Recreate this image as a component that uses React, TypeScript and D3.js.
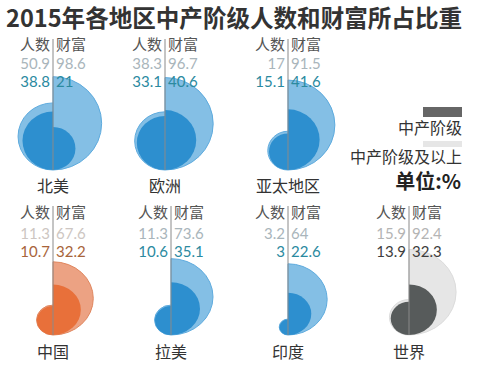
import React from "react";
import * as d3 from "d3";

const title = "2015年各地区中产阶级人数和财富所占比重";
const regions = ["北美", "欧洲", "亚太地区", "中国", "拉美", "印度", "世界"];
const popAbove = ["50.9", "38.3", "17", "11.3", "11.3", "3.2", "15.9"];
const wealthAbove = ["98.6", "96.7", "91.5", "67.6", "73.6", "64", "92.4"];
const popMiddle = ["38.8", "33.1", "15.1", "10.7", "10.6", "3", "13.9"];
const wealthMiddle = ["21", "40.6", "41.6", "32.2", "35.1", "22.6", "32.3"];
const headers = ["人数", "财富"];
const legendLabels = ["中产阶级", "中产阶级及以上"];
const unitLabel = "单位:%";

// layout (not data)
const centersX = [53, 165, 288, 53, 171, 288, 409];
const rowOf = [0, 0, 0, 1, 1, 1, 1];
const rows = [
  { header: 50, light: 69, dark: 87, lineTop: 39, bottom: 170, label: 192, ky: 4.7 },
  { header: 218, light: 239, dark: 257, lineTop: 206, bottom: 335, label: 358, ky: 4.45 },
];

const themes = {
  blue: { dark: "#2d8fcf", light: "#84bfe5", stroke: "#5eabde", valLight: "#a9b5bb", valDark: "#2b8a9f" },
  orange: { dark: "#e8703a", light: "#eca283", stroke: "#e0865e", valLight: "#cdc6c2", valDark: "#a8643a" },
  gray: { dark: "#575b5b", light: "#e6e6e6", stroke: "#dcdcdc", valLight: "#b4b4b4", valDark: "#3d3d3d" },
};
const themeOf = (i: number) => (i === 3 ? themes.orange : i === 6 ? themes.gray : themes.blue);

const FONT = "'Noto Sans CJK SC', 'Noto Sans', sans-serif";
const NUMFONT = "Lato, 'Noto Sans', sans-serif";

function half(cx: number, bottom: number, rx: number, ry: number, right: boolean) {
  return `M${cx},${bottom - 2 * ry} A${rx},${ry} 0 0 ${right ? 1 : 0} ${cx},${bottom} Z`;
}

export default function App() {
  const rxScale = d3.scaleSqrt().domain([0, 100]).range([0, 49]);
  return (
    <svg width={477} height={369} style={{ display: "block", position: "absolute", left: 0, top: 0 }}>
      <rect width={477} height={369} fill="#ffffff" />
      <text x={6} y={27} fontSize={24} fontWeight="bold" fill="#333" fontFamily={FONT} textLength={456} lengthAdjust="spacingAndGlyphs">
        {title}
      </text>
      {regions.map((name, i) => {
        const cx = centersX[i];
        const r = rows[rowOf[i]];
        const ryScale = d3.scaleSqrt().domain([0, 100]).range([0, r.ky * 10]);
        const t = themeOf(i);
        const B = r.bottom;
        const pa = +popAbove[i], wa = +wealthAbove[i], pm = +popMiddle[i], wm = +wealthMiddle[i];
        return (
          <g key={name}>
            <path d={half(cx, B, rxScale(pa), ryScale(pa), false)} fill={t.light} stroke={t.stroke} strokeWidth={1} />
            <path d={half(cx, B, rxScale(wa), ryScale(wa), true)} fill={t.light} stroke={t.stroke} strokeWidth={1} />
            <path d={half(cx, B, rxScale(pm), ryScale(pm), false)} fill={t.dark} />
            <path d={half(cx, B, rxScale(wm), ryScale(wm), true)} fill={t.dark} />
            <line x1={cx} x2={cx} y1={r.lineTop} y2={B} stroke="#8a8a8a" strokeWidth={1} />
            <g fontFamily={FONT} fontSize={15} fill="#555">
              <text x={cx - 3} y={r.header} textAnchor="end">{headers[0]}</text>
              <text x={cx + 3} y={r.header}>{headers[1]}</text>
            </g>
            <g fontFamily={NUMFONT} fontSize={15}>
              <text x={cx - 3} y={r.light} textAnchor="end" fill={t.valLight}>{popAbove[i]}</text>
              <text x={cx + 3} y={r.light} fill={t.valLight}>{wealthAbove[i]}</text>
              <text x={cx - 3} y={r.dark} textAnchor="end" fill={t.valDark}>{popMiddle[i]}</text>
              <text x={cx + 3} y={r.dark} fill={t.valDark}>{wealthMiddle[i]}</text>
            </g>
            <text x={cx} y={r.label} textAnchor="middle" fontFamily={FONT} fontSize={16} fill="#333">{name}</text>
          </g>
        );
      })}
      <rect x={423} y={107} width={39} height={10} fill="#666" />
      <text x={462} y={134} textAnchor="end" fontFamily={FONT} fontSize={16} fill="#333">{legendLabels[0]}</text>
      <rect x={423} y={141} width={39} height={6} fill="#e6e6e6" />
      <text x={462} y={163} textAnchor="end" fontFamily={FONT} fontSize={16} fill="#333">{legendLabels[1]}</text>
      <text x={461} y={189} textAnchor="end" fontFamily={FONT} fontSize={20} fontWeight="bold" fill="#222">{unitLabel}</text>
    </svg>
  );
}
